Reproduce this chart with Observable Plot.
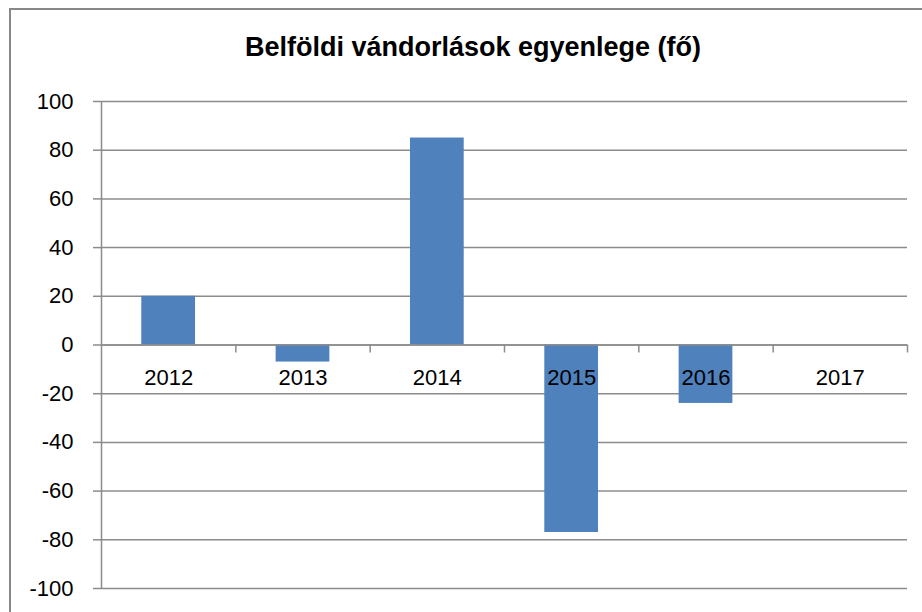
<!DOCTYPE html>
<html>
<head>
<meta charset="utf-8">
<script src="https://cdn.jsdelivr.net/npm/d3@7"></script>
<script src="https://cdn.jsdelivr.net/npm/@observablehq/plot@0.6"></script>
<style>
  html, body { margin: 0; padding: 0; background: #fff; overflow: hidden; }
  #wrap { position: relative; width: 922px; height: 612px; overflow: hidden; background: #fff; }
  #chart { position: absolute; left: 0; top: 0; }
  #title { position: absolute; left: 0; top: 30px; width: 946px; text-align: center; font-family: "Liberation Sans", Arial, sans-serif; font-weight: bold; font-size: 27px; color: #000; line-height: 34px; }
  #frame { position: absolute; left: 9px; top: 8px; width: 980px; height: 700px; border-top: 2px solid #888888; border-left: 2px solid #888888; z-index: 10; }
</style>
</head>
<body>
<div id="wrap">
  <div id="chart"></div>
  <div id="title">Belföldi vándorlások egyenlege (fő)</div>
  <div id="frame"></div>
</div>
<script>
const years = ["2012", "2013", "2014", "2015", "2016", "2017"];
const balance = [20, -7, 85, -77, -24, 0];
const yTicks = [100, 80, 60, 40, 20, 0, -20, -40, -60, -80, -100];

const data = years.map((year, i) => ({year, value: balance[i], pos: i + 0.5}));
const bounds = d3.range(years.length + 1);
const axisColor = "#8c8c8c";
const halfBar = 0.2;

const chart = Plot.plot({
  width: 922,
  height: 612,
  marginLeft: 101,
  marginRight: 15,
  marginTop: 101,
  marginBottom: 24,
  style: {fontFamily: "'Liberation Sans', Arial, sans-serif", fontSize: "22px", background: "#fff", color: "#000"},
  x: {domain: [0, years.length], axis: null},
  y: {domain: [-100, 100], axis: null},
  marks: [
    Plot.gridY(yTicks, {stroke: axisColor, strokeOpacity: 1, strokeWidth: 1.5}),
    Plot.rectY(data, {x1: d => d.pos - halfBar, x2: d => d.pos + halfBar, y: "value", fill: "#4f81bd"}),
    Plot.ruleY([0], {stroke: axisColor, strokeWidth: 1.5}),
    Plot.ruleX([bounds[0]], {stroke: axisColor, strokeWidth: 1.5}),
    Plot.ruleX(bounds.slice(1), {y1: 0, y2: 0, insetBottom: -8, stroke: axisColor, strokeWidth: 1.5}),
    Plot.axisY(yTicks, {tickSize: 8, tickPadding: 20, stroke: axisColor, strokeWidth: 1.5, strokeOpacity: 1, fill: "#000", fontSize: 22, label: null, tickFormat: d => String(d)}),
    Plot.text(data, {x: "pos", y: () => 0, text: "year", dy: 33, fontSize: 22, fill: "#000"})
  ]
});
document.getElementById("chart").appendChild(chart);
</script>
</body>
</html>
